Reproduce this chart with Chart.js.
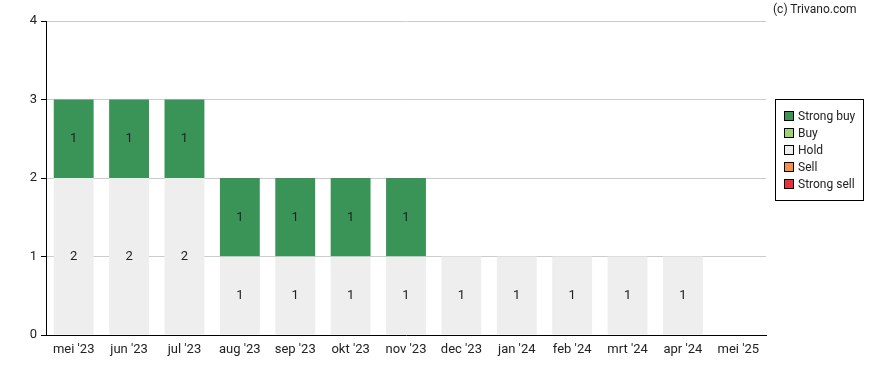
<!DOCTYPE html>
<html>
<head>
<meta charset="UTF-8">
<title>Advies</title>
<script src="https://cdn.jsdelivr.net/npm/chart.js"></script>
<style>
    body { margin: 0; background: #fff; font-family: Roboto, sans-serif; }
    #wrap { position: relative; width: 888px; height: 370px; }
    #credit { position: absolute; left: 773px; top: 2px; font-size: 12px; color: #222; }
    #legend { position: absolute; left: 775px; top: 99px; width: 89px; height: 102px; border: 1px solid #000; box-sizing: border-box; padding: 8px 0 0 8px; font-size: 12px; color: #222; }
    #legend div { height: 17px; line-height: 17px; white-space: nowrap; }
    #legend span { display: inline-block; width: 8px; height: 8px; border: 1px solid #000; margin-right: 4px; vertical-align: -1px; }
</style>
</head>
<body>
<div id="wrap">
    <canvas id="chart" width="888" height="370"></canvas>
    <div id="credit">(c) Trivano.com</div>
    <div id="legend"></div>
</div>
<script>
    var months = ["mei '23", "jun '23", "jul '23", "aug '23", "sep '23", "okt '23", "nov '23", "dec '23", "jan '24", "feb '24", "mrt '24", "apr '24", "mei '25"];
    var strongBuy = [1, 1, 1, 1, 1, 1, 1, 0, 0, 0, 0, 0, 0];
    var buy = [0, 0, 0, 0, 0, 0, 0, 0, 0, 0, 0, 0, 0];
    var hold = [2, 2, 2, 1, 1, 1, 1, 1, 1, 1, 1, 1, 0];
    var sell = [0, 0, 0, 0, 0, 0, 0, 0, 0, 0, 0, 0, 0];
    var strongSell = [0, 0, 0, 0, 0, 0, 0, 0, 0, 0, 0, 0, 0];
    var yTicks = [0, 1, 2, 3, 4];

    var colors = {
        'Strong buy': '#3a9458',
        'Buy': '#9bd56f',
        'Hold': '#eeeeee',
        'Sell': '#f5904a',
        'Strong sell': '#e8303f'
    };

    // legend, top to bottom
    var legendNames = ['Strong buy', 'Buy', 'Hold', 'Sell', 'Strong sell'];
    var legendHtml = '';
    legendNames.forEach(function (n) {
        legendHtml += '<div><span style="background:' + colors[n] + '"></span>' + n + '</div>';
    });
    document.getElementById('legend').innerHTML = legendHtml;

    // numbers in the middle of each bar segment
    var barLabels = {
        id: 'barLabels',
        afterDatasetsDraw: function (chart) {
            var ctx = chart.ctx;
            ctx.save();
            ctx.font = '13px Roboto';
            ctx.fillStyle = '#222';
            ctx.textAlign = 'center';
            ctx.textBaseline = 'middle';
            chart.data.datasets.forEach(function (ds, i) {
                chart.getDatasetMeta(i).data.forEach(function (bar, j) {
                    var v = ds.data[j];
                    if (!v) return;
                    ctx.fillText(v, bar.x, (bar.y + bar.base) / 2);
                });
            });
            ctx.restore();
        }
    };

    function ds(name, data) {
        return {
            label: name,
            data: data,
            backgroundColor: colors[name],
            borderWidth: 0,
            categoryPercentage: 1,
            barPercentage: 0.72
        };
    }

    new Chart(document.getElementById('chart'), {
        type: 'bar',
        data: {
            labels: months,
            datasets: [
                ds('Strong sell', strongSell),
                ds('Sell', sell),
                ds('Hold', hold),
                ds('Buy', buy),
                ds('Strong buy', strongBuy)
            ]
        },
        plugins: [barLabels],
        options: {
            responsive: false,
            animation: false,
            layout: { padding: { left: 0, right: 122, top: 21, bottom: 0 } },
            plugins: { legend: { display: false }, tooltip: { enabled: false } },
            scales: {
                x: {
                    stacked: true,
                    grid: { display: false, drawTicks: true, tickLength: 5 },
                    border: { color: '#000', width: 1 },
                    ticks: { color: '#222', font: { family: 'Roboto', size: 13 }, padding: 2, maxRotation: 0, autoSkip: false },
                    afterFit: function (s) { s.height = 35; }
                },
                y: {
                    stacked: true,
                    min: 0,
                    max: 4,
                    afterBuildTicks: function (s) { s.ticks = yTicks.map(function (v) { return { value: v }; }); },
                    grid: { color: '#cccccc', tickLength: 5, tickColor: '#000' },
                    border: { color: '#000', width: 1 },
                    ticks: { color: '#222', font: { family: 'Roboto', size: 13 }, padding: 4 },
                    afterFit: function (s) { s.width = 46; }
                }
            }
        }
    });
</script>
</body>
</html>
